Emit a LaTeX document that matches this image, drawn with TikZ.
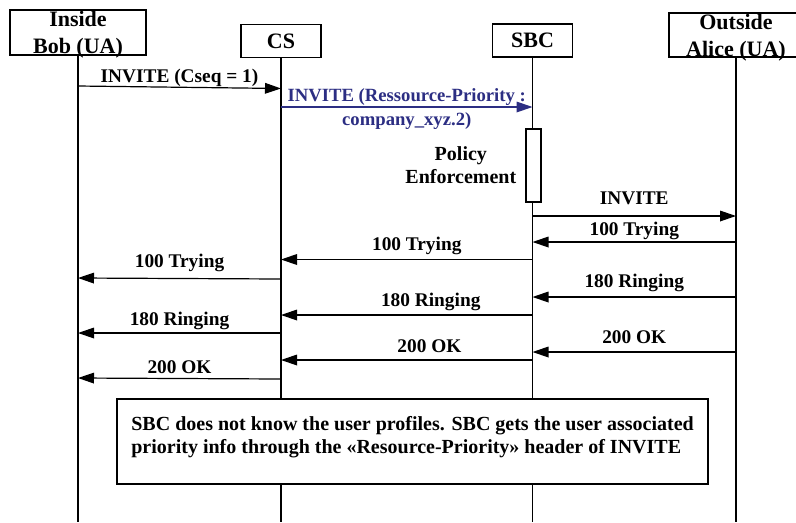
\documentclass[tikz,border=0pt]{standalone}
\usepackage{fontspec}
\setmainfont{Liberation Serif}
\usetikzlibrary{arrows.meta,positioning}
\definecolor{msgblue}{RGB}{44,46,131}
\tikzset{
  head/.style={draw, line width=0.9pt, fill=white, inner sep=0pt, align=center,
    font=\bfseries\fontsize{16.5}{20.25}\selectfont},
  life/.style={line width=0.9pt},
  msg/.style={line width=0.9pt, -{Triangle[length=12pt,width=8pt]}},
  lbl/.style={font=\bfseries\fontsize{14.5}{17.4}\selectfont, inner sep=0pt, text depth=0.22em},
  actbox/.style={draw, fill=white, line width=0.8pt, inner sep=0pt, minimum width=11.25pt, minimum height=54.75pt},
  policy/.style={font=\bfseries\fontsize{15}{17.25}\selectfont, inner sep=0pt, align=center},
  notebox/.style={draw, fill=white, line width=1.6pt, align=left, inner xsep=7.5pt, inner ysep=13.35pt,
    text depth=9.45pt, minimum width=443.25pt, font=\bfseries\fontsize{15}{17.25}\selectfont}
}
\begin{document}
\begin{tikzpicture}[x=0.75pt, y=-0.75pt]
  \useasboundingbox (0,0) rectangle (796,522);
  \clip (0,0) rectangle (796,522);
  \node [head, minimum width=102pt, minimum height=33.75pt, text depth=0pt] (bob) at (78,32.5) {Inside\\Bob (UA)};
  \node [head, minimum width=60pt, minimum height=24.75pt] (cs) at (281,41) {CS};
  \node [head, minimum width=60pt, minimum height=24.75pt] (sbc) at (532.5,40.5) {SBC};
  \node [head, minimum width=100.5pt, minimum height=33pt, text depth=0pt] (alice) at (736,35) {Outside\\Alice (UA)};
  \coordinate (bobEnd) at (78,522);
  \coordinate (csEnd) at (281,522);
  \coordinate (sbcEnd) at (532.5,522);
  \coordinate (aliceEnd) at (736,522);
  \draw [life] (bob) -- (bobEnd);
  \draw [life] (cs) -- (csEnd);
  \draw [life] (sbc) -- (sbcEnd);
  \draw [life] (alice) -- (aliceEnd);

  \draw [msg] (bob |- 0,86) -- (cs |- 0,88.5) node [lbl, midway, above=1pt] {INVITE (Cseq = 1)};
  \draw [msg, msgblue] (cs |- 0,107) -- (sbc |- 0,107) node [midway, yshift=-1.6pt, inner sep=0pt, align=center, text=msgblue,
    font=\bfseries\fontsize{14}{18}\selectfont] (prio) {INVITE (Ressource-Priority :\\company\_xyz.2)};
  \node [actbox] (act) at (533.5,165.5) {};
  \node [policy, left=6.75pt of act] (pol) {Policy\\Enforcement};
  \draw [msg] (sbc |- 0,216) -- (alice |- 0,216) node [lbl, midway, above=6pt] {INVITE};
  \draw [msg] (alice |- 0,242) -- (sbc |- 0,242) node [lbl, midway, above=2.5pt] {100 Trying};
  \draw [msg] (sbc |- 0,259.5) -- (cs |- 0,259.5) node [lbl, midway, above=4pt, xshift=7.5pt] {100 Trying};
  \draw [msg] (cs |- 0,279) -- (bob |- 0,278) node [lbl, midway, above=5.5pt] {100 Trying};
  \draw [msg] (alice |- 0,297) -- (sbc |- 0,297) node [lbl, midway, above=4.8pt] {180 Ringing};
  \draw [msg] (sbc |- 0,315) -- (cs |- 0,315) node [lbl, midway, above=4pt, xshift=18pt] {180 Ringing};
  \draw [msg] (cs |- 0,333) -- (bob |- 0,333) node [lbl, midway, above=3.3pt] {180 Ringing};
  \draw [msg] (alice |- 0,352) -- (sbc |- 0,352) node [lbl, midway, above=3.6pt] {200 OK};
  \draw [msg] (sbc |- 0,360) -- (cs |- 0,360) node [lbl, midway, above=3.3pt, xshift=17pt] {200 OK};
  \draw [msg] (cs |- 0,379) -- (bob |- 0,378) node [lbl, midway, above=1.4pt] {200 OK};

  \node [notebox, anchor=north west] (note) at (116,398) {SBC does not know the user profiles. SBC gets the user associated\\priority info through the «Resource-Priority» header of INVITE};
\end{tikzpicture}
\end{document}
